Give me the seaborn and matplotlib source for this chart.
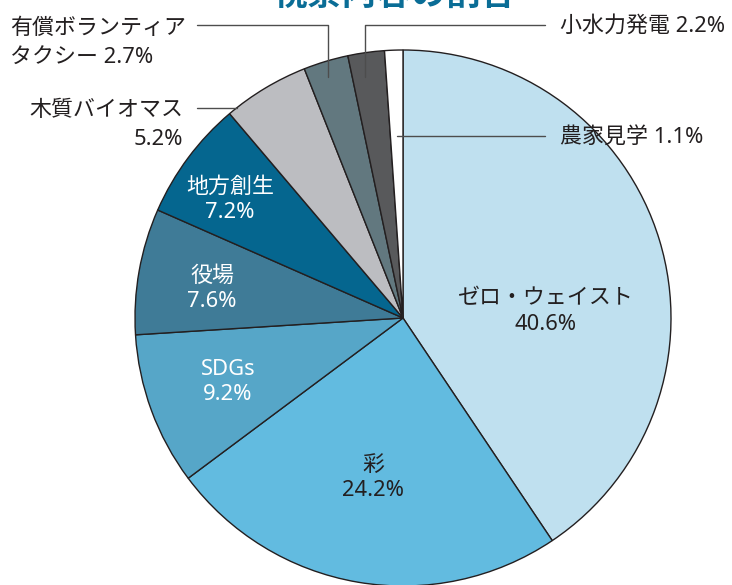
import matplotlib
matplotlib.use("Agg")
import matplotlib.pyplot as plt
import seaborn as sns

# データ（時計回り、上から）
labels = ["ゼロ・ウェイスト", "彩", "SDGs", "役場", "地方創生",
          "木質バイオマス", "有償ボランティア\nタクシー", "小水力発電", "農家見学"]
values = [40.6, 24.2, 9.2, 7.6, 7.2, 5.2, 2.7, 2.2, 1.1]
colors = ["#bfe0ef", "#62bbe0", "#56a6c8", "#3f7b97", "#05668f",
          "#bcbdc1", "#62787f", "#58595b", "#ffffff"]
title = "視察内容の割合"

sns.set_theme(style="white")
# 英数字は Noto Sans、日本語は CJK にフォールバック
plt.rcParams["font.family"] = ["Noto Sans", "Noto Sans CJK JP", "DejaVu Sans"]

W, H = 732, 585
fig = plt.figure(figsize=(W / 100, H / 100), dpi=100)
ax = fig.add_axes([0, 0, 1, 1])

cx, cy, r = 403, 318, 268
# y軸を反転しているので counterclock=True で見た目は時計回り
wedges, _ = ax.pie(values, colors=colors, startangle=-90, counterclock=True,
                   center=(cx, cy), radius=r, frame=True,
                   wedgeprops=dict(edgecolor="#231f20", linewidth=1.0))
ax.set_xlim(0, W)
ax.set_ylim(H, 0)
ax.axis("off")

fs = 15.8
dark = "#231f20"

# 内側ラベル
inner = {0: (546, 312, dark), 1: (373, 478, dark), 2: (228, 382, "white"),
         3: (212, 289, "white"), 4: (230, 200, "white")}
for i, (x, y, c) in inner.items():
    ax.text(x, y, f"{labels[i]}\n{values[i]}%", ha="center", va="center",
            fontsize=fs, color=c, linespacing=1.3)

# 外側ラベルと引き出し線
lc = "#4d4d4d"
ax.text(183, 125, f"{labels[5]}\n{values[5]}%", ha="right", va="center",
        fontsize=fs, color=dark, linespacing=1.5)
ax.plot([197, 237], [108, 108], color=lc, lw=1)

ax.text(10, 43, f"{labels[6]} {values[6]}%", ha="left", va="center",
        fontsize=fs, color=dark, linespacing=1.55)
ax.plot([197, 328, 328], [25, 25, 77], color=lc, lw=1)

ax.text(560, 26, f"{labels[7]} {values[7]}%", ha="left", va="center",
        fontsize=fs, color=dark)
ax.plot([545, 365, 365], [25, 25, 77], color=lc, lw=1)

ax.text(560, 137, f"{labels[8]} {values[8]}%", ha="left", va="center",
        fontsize=fs, color=dark)
ax.plot([545, 397], [136, 136], color=lc, lw=1)

ax.text(394, -4, title, ha="center", va="center", fontsize=25,
        fontweight="bold", color="#0a6d96")

fig.savefig("out.png", dpi=100)
